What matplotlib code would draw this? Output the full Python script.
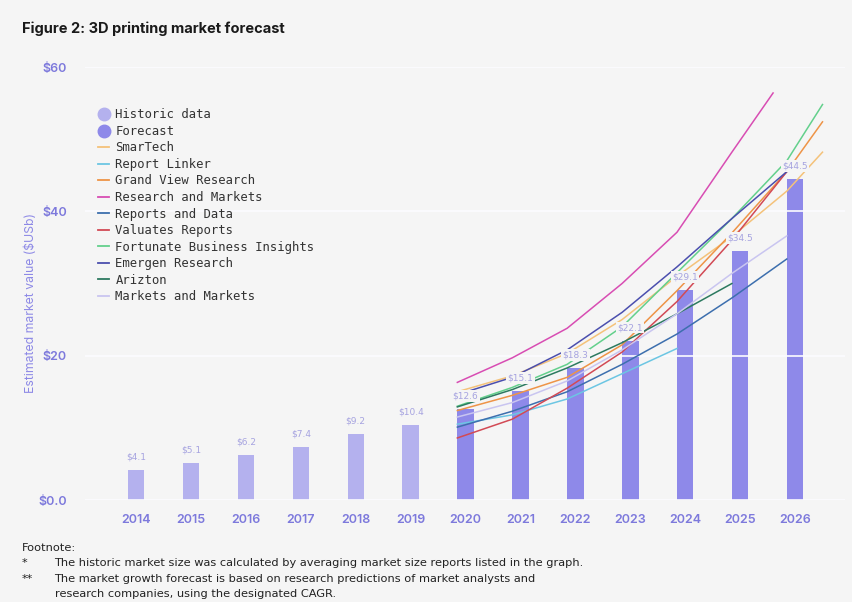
import matplotlib.pyplot as plt
from matplotlib.lines import Line2D

# Market size per year ($USb)
hist_years = [2014, 2015, 2016, 2017, 2018, 2019]
hist_values = [4.1, 5.1, 6.2, 7.4, 9.2, 10.4]
fc_years = [2020, 2021, 2022, 2023, 2024, 2025, 2026]
fc_values = [12.6, 15.1, 18.3, 22.1, 29.1, 34.5, 44.5]

# Analyst forecasts (year, value)
smartech_x = [2020, 2021, 2022, 2023, 2024, 2025, 2026, 2026.65]
smartech_y = [15.0, 17.2, 20.3, 25.0, 31.0, 36.5, 42.8, 48.2]
reportlinker_x = [2020, 2021, 2022, 2023, 2024]
reportlinker_y = [10.5, 11.8, 14.0, 17.5, 21.0]
grandview_x = [2020, 2021, 2022, 2023, 2024, 2025, 2026, 2026.65]
grandview_y = [12.4, 14.5, 17.0, 21.5, 29.0, 37.0, 45.5, 52.4]
resmarkets_x = [2020, 2021, 2022, 2023, 2024, 2025, 2025.75]
resmarkets_y = [16.3, 19.7, 23.8, 30.0, 37.1, 48.2, 56.4]
reportsdata_x = [2020, 2021, 2022, 2023, 2024, 2025, 2026]
reportsdata_y = [10.1, 12.3, 15.0, 18.8, 23.0, 28.0, 33.4]
valuates_x = [2020, 2021, 2022, 2023, 2024, 2025, 2026]
valuates_y = [8.6, 11.2, 15.5, 20.5, 27.5, 36.0, 45.5]
fortunate_x = [2020, 2021, 2022, 2023, 2024, 2025, 2026, 2026.65]
fortunate_y = [13.0, 15.6, 18.8, 24.0, 31.5, 39.0, 47.0, 54.8]
emergen_x = [2020, 2021, 2022, 2023, 2024, 2025, 2026]
emergen_y = [14.6, 17.0, 20.8, 26.0, 32.3, 39.0, 45.5]
arizton_x = [2020, 2021, 2022, 2023, 2024, 2025]
arizton_y = [12.9, 15.3, 18.3, 21.8, 25.8, 30.0]
mnm_x = [2020, 2021, 2022, 2023, 2024, 2025, 2026]
mnm_y = [11.5, 13.5, 16.5, 20.8, 25.8, 31.4, 36.6]

series = [
    ("SmarTech", smartech_x, smartech_y, "#f4c27a"),
    ("Report Linker", reportlinker_x, reportlinker_y, "#6cc6e3"),
    ("Grand View Research", grandview_x, grandview_y, "#ee9447"),
    ("Research and Markets", resmarkets_x, resmarkets_y, "#d84db3"),
    ("Reports and Data", reportsdata_x, reportsdata_y, "#3d6fae"),
    ("Valuates Reports", valuates_x, valuates_y, "#d24a55"),
    ("Fortunate Business Insights", fortunate_x, fortunate_y, "#63d08c"),
    ("Emergen Research", emergen_x, emergen_y, "#4b4fae"),
    ("Arizton", arizton_x, arizton_y, "#2d7a60"),
    ("Markets and Markets", mnm_x, mnm_y, "#c9c5f0"),
]

BG = "#f5f5f5"
HIST_COL = "#b4b1ee"
FC_COL = "#8e89e9"
TICK_COL = "#7d79dc"
BAR_W = 0.3

fig = plt.figure(figsize=(8.52, 6.02), dpi=100, facecolor=BG)
ax = fig.add_axes([0.0998, 0.1694, 0.892, 0.7193], facecolor=BG)

ax.bar(hist_years, hist_values, width=BAR_W, color=HIST_COL, zorder=1)
ax.bar(fc_years, fc_values, width=BAR_W, color=FC_COL, zorder=1)

# forecast curves start at the left edge of each bar
for name, xs, ys, col in series:
    ax.plot([x - BAR_W / 2 for x in xs], ys, color=col, lw=1.1, zorder=3)

for x, v in zip(hist_years + fc_years, hist_values + fc_values):
    ax.text(x, v + 1.8, f"${v}", ha="center", va="center", fontsize=6.5,
            color="#a6a3e0", zorder=5,
            bbox=dict(facecolor=BG, edgecolor="none", pad=1.0))

ax.set_xlim(2013.07, 2026.91)
ax.set_ylim(0, 60)
ax.set_yticks([0, 20, 40, 60])
ax.set_yticklabels(["$0.0", "$20", "$40", "$60"])
ax.set_xticks(hist_years + fc_years)
ax.tick_params(axis="both", length=0, colors=TICK_COL, labelsize=9)
ax.tick_params(axis="y", pad=13)
ax.tick_params(axis="x", pad=10)
for lab in ax.get_yticklabels() + ax.get_xticklabels():
    lab.set_fontweight("semibold")
    lab.set_fontfamily("Inter")

ax.grid(axis="y", color="#fcfcff", lw=1.2, zorder=2)
ax.set_axisbelow(False)
for s in ax.spines.values():
    s.set_visible(False)

fig.text(0.036, 0.497, "Estimated market value ($USb)", rotation=90,
         ha="center", va="center", fontsize=8.8, color="#8d89e6", family="Inter")

handles = [
    Line2D([], [], ls="none", marker="o", ms=9, color=HIST_COL),
    Line2D([], [], ls="none", marker="o", ms=9, color=FC_COL),
] + [Line2D([], [], color=c, lw=1.3) for _, _, _, c in series]
labels = ["Historic data", "Forecast"] + [s[0] for s in series]
leg = ax.legend(handles, labels, loc="upper left", bbox_to_anchor=(0.003, 0.93),
                frameon=False, handlelength=0.9, handletextpad=0.5,
                labelspacing=0.29, prop={"family": "DejaVu Sans Mono", "size": 8.8})
for t in leg.get_texts():
    t.set_color("#333333")

fig.text(0.026, 0.953, "Figure 2: 3D printing market forecast", fontsize=10.5,
         fontweight="bold", color="#1a1a1a", family="Inter", va="center")

foot = ["Liberation Sans Narrow", "DejaVu Sans"]
fs = 8.2
fig.text(0.026, 0.089, "Footnote:", fontsize=fs, color="#222222", family=foot, va="center")
fig.text(0.026, 0.064, "*", fontsize=fs, color="#222222", family=foot, va="center")
fig.text(0.064, 0.064, "The historic market size was calculated by averaging market size reports listed in the graph.",
         fontsize=fs, color="#222222", family=foot, va="center")
fig.text(0.026, 0.039, "**", fontsize=fs, color="#222222", family=foot, va="center")
fig.text(0.064, 0.039, "The market growth forecast is based on research predictions of market analysts and",
         fontsize=fs, color="#222222", family=foot, va="center")
fig.text(0.064, 0.013, "research companies, using the designated CAGR.",
         fontsize=fs, color="#222222", family=foot, va="center")

fig.savefig("out.png", dpi=100, facecolor=BG)
